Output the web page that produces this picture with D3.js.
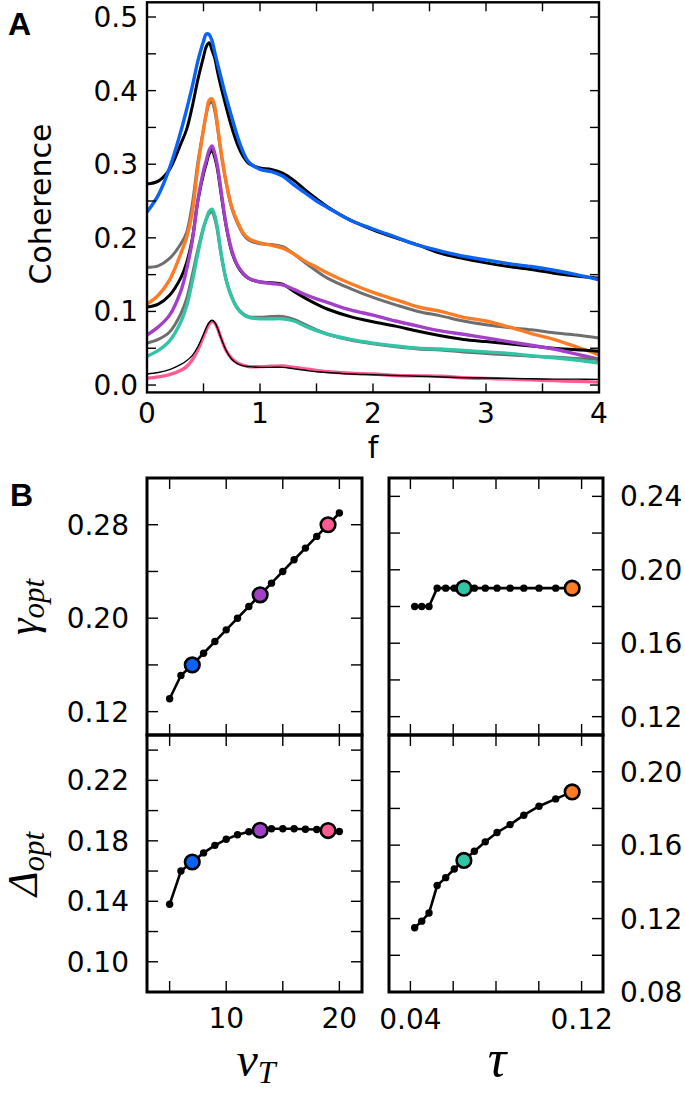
<!DOCTYPE html>
<html>
<head>
<meta charset="utf-8">
<script src="https://cdn.jsdelivr.net/npm/d3@7"></script>
<style>
  html, body { margin: 0; padding: 0; background: #fff; }
  svg { display: block; }
</style>
</head>
<body>
<svg id="chart" width="685" height="1096"></svg>
<script>
// ---------------- Panel A data ----------------
const fGrid = [0, 0.1, 0.2, 0.3, 0.35, 0.4, 0.45, 0.5, 0.525, 0.55, 0.575, 0.6, 0.625, 0.65, 0.7, 0.75, 0.8, 0.85, 0.9, 1.0, 1.1, 1.2, 1.3, 1.4, 1.5, 1.6, 1.8, 2.0, 2.2, 2.4, 2.6, 2.8, 3.0, 3.2, 3.4, 3.6, 3.8, 4.0];

const blueCoh = [0.235, 0.258, 0.295, 0.345, 0.374, 0.405, 0.440, 0.467, 0.477, 0.476, 0.468, 0.452, 0.436, 0.421, 0.391, 0.364, 0.338, 0.317, 0.303, 0.293, 0.290, 0.284, 0.272, 0.261, 0.250, 0.241, 0.224, 0.212, 0.201, 0.190, 0.182, 0.175, 0.170, 0.165, 0.161, 0.156, 0.150, 0.143];
const blueTheory = [0.273, 0.277, 0.293, 0.328, 0.347, 0.378, 0.415, 0.446, 0.460, 0.465, 0.455, 0.444, 0.425, 0.408, 0.378, 0.350, 0.327, 0.311, 0.301, 0.295, 0.293, 0.288, 0.278, 0.265, 0.253, 0.242, 0.224, 0.211, 0.200, 0.190, 0.179, 0.172, 0.166, 0.161, 0.157, 0.152, 0.148, 0.145];

const orangeCoh = [0.110, 0.122, 0.143, 0.179, 0.200, 0.234, 0.297, 0.347, 0.370, 0.387, 0.389, 0.378, 0.352, 0.323, 0.276, 0.242, 0.222, 0.207, 0.199, 0.193, 0.190, 0.186, 0.178, 0.168, 0.160, 0.152, 0.138, 0.126, 0.116, 0.106, 0.100, 0.092, 0.087, 0.079, 0.070, 0.062, 0.052, 0.041];
const orangeTheory = [0.160, 0.162, 0.172, 0.192, 0.207, 0.245, 0.302, 0.348, 0.368, 0.382, 0.384, 0.372, 0.348, 0.320, 0.275, 0.240, 0.220, 0.205, 0.197, 0.192, 0.191, 0.188, 0.178, 0.166, 0.155, 0.145, 0.131, 0.119, 0.109, 0.100, 0.094, 0.087, 0.082, 0.078, 0.075, 0.071, 0.068, 0.064];

const purpleCoh = [0.068, 0.079, 0.095, 0.128, 0.157, 0.195, 0.251, 0.291, 0.305, 0.319, 0.325, 0.314, 0.296, 0.270, 0.218, 0.183, 0.163, 0.152, 0.145, 0.140, 0.138, 0.136, 0.130, 0.123, 0.117, 0.112, 0.102, 0.095, 0.087, 0.080, 0.0735, 0.069, 0.064, 0.059, 0.054, 0.049, 0.042, 0.035];
const purpleTheory = [0.106, 0.110, 0.122, 0.146, 0.166, 0.198, 0.250, 0.287, 0.301, 0.314, 0.319, 0.309, 0.292, 0.266, 0.216, 0.181, 0.162, 0.151, 0.145, 0.140, 0.139, 0.137, 0.127, 0.118, 0.110, 0.103, 0.093, 0.086, 0.080, 0.073, 0.067, 0.062, 0.059, 0.056, 0.053, 0.050, 0.048, 0.046];

const tealCoh = [0.039, 0.047, 0.060, 0.086, 0.107, 0.140, 0.179, 0.213, 0.226, 0.236, 0.239, 0.230, 0.212, 0.185, 0.143, 0.119, 0.104, 0.096, 0.092, 0.090, 0.090, 0.090, 0.087, 0.080, 0.074, 0.069, 0.062, 0.057, 0.053, 0.050, 0.049, 0.047, 0.045, 0.043, 0.040, 0.037, 0.034, 0.030];
const tealTheory = [0.057, 0.062, 0.072, 0.097, 0.117, 0.149, 0.184, 0.214, 0.225, 0.233, 0.235, 0.226, 0.208, 0.182, 0.143, 0.120, 0.105, 0.097, 0.093, 0.092, 0.093, 0.093, 0.089, 0.082, 0.075, 0.069, 0.061, 0.056, 0.052, 0.049, 0.0475, 0.045, 0.043, 0.041, 0.039, 0.038, 0.036, 0.035];

const pinkCoh = [0.009, 0.011, 0.014, 0.020, 0.025, 0.034, 0.048, 0.066, 0.075, 0.083, 0.0865, 0.084, 0.077, 0.066, 0.047, 0.036, 0.030, 0.027, 0.025, 0.025, 0.0255, 0.026, 0.024, 0.022, 0.020, 0.018, 0.016, 0.015, 0.013, 0.0125, 0.012, 0.010, 0.009, 0.008, 0.007, 0.006, 0.005, 0.004];
const pinkTheory = [0.015, 0.017, 0.021, 0.028, 0.033, 0.040, 0.052, 0.069, 0.078, 0.085, 0.088, 0.085, 0.077, 0.066, 0.047, 0.035, 0.029, 0.026, 0.025, 0.024, 0.024, 0.024, 0.022, 0.020, 0.018, 0.017, 0.015, 0.014, 0.013, 0.012, 0.011, 0.010, 0.0095, 0.009, 0.0085, 0.008, 0.008, 0.0077];

const xTicksA = [0, 0.5, 1, 1.5, 2, 2.5, 3, 3.5, 4];
const xLabelsA = [0, 1, 2, 3, 4];
const yTicksA = [0, 0.05, 0.1, 0.15, 0.2, 0.25, 0.3, 0.35, 0.4, 0.45, 0.5];
const yLabelsA = [0, 0.1, 0.2, 0.3, 0.4, 0.5];

// ---------------- Panel B data ----------------
const vT = [5, 6, 7, 8, 9, 10, 11, 12, 13, 14, 15, 16, 17, 18, 19, 20];
const gammaVT = [0.131, 0.151, 0.160, 0.170, 0.180, 0.190, 0.200, 0.210, 0.220, 0.230, 0.240, 0.250, 0.260, 0.270, 0.280, 0.290];
const deltaVT = [0.138, 0.160, 0.166, 0.172, 0.177, 0.181, 0.184, 0.186, 0.187, 0.188, 0.188, 0.188, 0.1877, 0.1875, 0.1868, 0.1862];
const vTHighlight = [7, 13, 19];

const tau = [0.042, 0.0453, 0.0487, 0.0525, 0.0565, 0.0605, 0.065, 0.0699, 0.075, 0.0805, 0.0866, 0.093, 0.1001, 0.1079, 0.1156];
const gammaTau = [0.18, 0.18, 0.18, 0.19, 0.19, 0.19, 0.19, 0.19, 0.19, 0.19, 0.19, 0.19, 0.19, 0.19, 0.19];
const deltaTau = [0.115, 0.1186, 0.123, 0.138, 0.1423, 0.147, 0.1517, 0.1567, 0.1618, 0.1669, 0.1712, 0.1763, 0.1812, 0.1852, 0.189];
const tauHighlight = [0.065, 0.1156];

const vTTicks = [5, 10, 15, 20], vTLabels = [10, 20];
const tauTicks = [0.04, 0.06, 0.08, 0.10, 0.12], tauLabels = [0.04, 0.12];
const gVTTicks = [0.12, 0.16, 0.20, 0.24, 0.28], gVTLabels = [0.12, 0.20, 0.28];
const dVTTicks = [0.10, 0.12, 0.14, 0.16, 0.18, 0.20, 0.22, 0.24], dVTLabels = [0.10, 0.14, 0.18, 0.22];
const gTauTicks = [0.12, 0.14, 0.16, 0.18, 0.20, 0.22, 0.24], gTauLabels = [0.12, 0.16, 0.20, 0.24];
const dTauTicks = [0.08, 0.10, 0.12, 0.14, 0.16, 0.18, 0.20], dTauLabels = [0.08, 0.12, 0.16, 0.20];

// ---------------- Styles ----------------
const C = { blue: "#0b63f6", orange: "#ff7b24", purple: "#a43fca", teal: "#33c4a5", pink: "#ff5a92", gray: "#6e6e6e", black: "#000" };
const FONT = "'DejaVu Sans', sans-serif";
const MATH = "'Liberation Serif', 'DejaVu Serif', serif";

const svg = d3.select("#chart");

// generic framed axes with inward ticks on all sides
function frame(g, x, y, xt, yt, tl, sw) {
  const [x0, x1] = x.range(), [y0, y1] = y.range();
  xt.forEach(t => {
    g.append("line").attr("x1", x(t)).attr("x2", x(t)).attr("y1", y0).attr("y2", y0 - tl).attr("stroke", "#000").attr("stroke-width", 1.4);
    g.append("line").attr("x1", x(t)).attr("x2", x(t)).attr("y1", y1).attr("y2", y1 + tl).attr("stroke", "#000").attr("stroke-width", 1.4);
  });
  yt.forEach(t => {
    g.append("line").attr("x1", x0).attr("x2", x0 + tl).attr("y1", y(t)).attr("y2", y(t)).attr("stroke", "#000").attr("stroke-width", 1.4);
    g.append("line").attr("x1", x1).attr("x2", x1 - tl).attr("y1", y(t)).attr("y2", y(t)).attr("stroke", "#000").attr("stroke-width", 1.4);
  });
  g.append("rect").attr("x", x0).attr("y", y1).attr("width", x1 - x0).attr("height", y0 - y1)
    .attr("fill", "none").attr("stroke", "#000").attr("stroke-width", sw);
}

// ---------------- Panel A ----------------
const xA = d3.scaleLinear().domain([0, 4]).range([147, 599]);
const yA = d3.scaleLinear().domain([-0.01, 0.52]).range([392.4, 2.3]);
const gA = svg.append("g");

svg.append("defs").append("clipPath").attr("id", "clipA")
  .append("rect").attr("x", 147).attr("y", 2.3).attr("width", 452).attr("height", 390);

const seriesA = [
  { v: blueTheory, c: C.black, w: 3 }, { v: blueCoh, c: C.blue, w: 3.4 },
  { v: orangeTheory, c: C.gray, w: 3 }, { v: orangeCoh, c: C.orange, w: 3.4 },
  { v: purpleTheory, c: C.black, w: 3 }, { v: purpleCoh, c: C.purple, w: 3.4 },
  { v: tealTheory, c: C.gray, w: 3 }, { v: tealCoh, c: C.teal, w: 3.4 },
  { v: pinkCoh, c: C.pink, w: 3.4 }, { v: pinkTheory, c: C.black, w: 1.4 }
];
const lineA = d3.line().x((d, i) => xA(fGrid[i])).y(d => yA(d)).curve(d3.curveCatmullRom.alpha(0.5));
const gLines = gA.append("g").attr("clip-path", "url(#clipA)");
seriesA.forEach(s => {
  gLines.append("path").attr("d", lineA(s.v)).attr("fill", "none").attr("stroke", s.c)
    .attr("stroke-width", s.w).attr("stroke-linejoin", "round").attr("stroke-linecap", "round");
});
frame(gA, xA, yA, xTicksA, yTicksA, 9, 2.4);

xLabelsA.forEach(t => gA.append("text").attr("x", xA(t)).attr("y", 423).attr("text-anchor", "middle")
  .attr("font-family", FONT).attr("font-size", 28).text(d3.format("d")(t)));
yLabelsA.forEach(t => gA.append("text").attr("x", 138).attr("y", yA(t) + 10).attr("text-anchor", "end")
  .attr("font-family", FONT).attr("font-size", 28).text(d3.format(".1f")(t)));
gA.append("text").attr("x", xA(2)).attr("y", 458).attr("text-anchor", "middle")
  .attr("font-family", FONT).attr("font-size", 30).text("f");
gA.append("text").attr("transform", "translate(51,204) rotate(-90)").attr("text-anchor", "middle")
  .attr("font-family", FONT).attr("font-size", 30).text("Coherence");
svg.append("text").attr("x", 8).attr("y", 35).attr("font-family", "'Liberation Sans', Arial, sans-serif")
  .attr("font-weight", "bold").attr("font-size", 32).text("A");
svg.append("text").attr("x", 10).attr("y", 506).attr("font-family", "'Liberation Sans', Arial, sans-serif")
  .attr("font-weight", "bold").attr("font-size", 32).text("B");

// ---------------- Panel B ----------------
const xL = d3.scaleLinear().domain([3, 22]).range([147, 362]);
const xR = d3.scaleLinear().domain([0.03, 0.13]).range([389, 603]);
const yGL = d3.scaleLinear().domain([0.10, 0.32]).range([735, 478]);
const yDL = d3.scaleLinear().domain([0.08, 0.25]).range([992, 735]);
const yGR = d3.scaleLinear().domain([0.11, 0.25]).range([735, 478]);
const yDR = d3.scaleLinear().domain([0.08, 0.22]).range([992, 735]);

const vtColors = [C.blue, C.purple, C.pink];
const tauColors = [C.teal, C.orange];

function subplot(xs, ys, xv, yv, hl, hlColors, xt, yt) {
  const g = svg.append("g");
  frame(g, xs, ys, xt, yt, 11, 3);
  const ln = d3.line().x((d, i) => xs(xv[i])).y(d => ys(d));
  g.append("path").attr("d", ln(yv)).attr("fill", "none").attr("stroke", "#000").attr("stroke-width", 2.6);
  g.selectAll("circle.s").data(yv).join("circle").attr("class", "s")
    .attr("cx", (d, i) => xs(xv[i])).attr("cy", d => ys(d)).attr("r", 3.7).attr("fill", "#000");
  hl.forEach((h, k) => {
    const i = xv.indexOf(h);
    g.append("circle").attr("cx", xs(xv[i])).attr("cy", ys(yv[i])).attr("r", 7.3)
      .attr("fill", hlColors[k]).attr("stroke", "#000").attr("stroke-width", 2.6);
  });
  return g;
}

subplot(xL, yGL, vT, gammaVT, vTHighlight, vtColors, vTTicks, gVTTicks);
subplot(xL, yDL, vT, deltaVT, vTHighlight, vtColors, vTTicks, dVTTicks);
subplot(xR, yGR, tau, gammaTau, tauHighlight, tauColors, tauTicks, gTauTicks);
subplot(xR, yDR, tau, deltaTau, tauHighlight, tauColors, tauTicks, dTauTicks);

function yLabelsLeft(ys, labs) {
  labs.forEach(t => svg.append("text").attr("x", 129).attr("y", ys(t) + 10).attr("text-anchor", "end")
    .attr("font-family", FONT).attr("font-size", 28).text(d3.format(".2f")(t)));
}
function yLabelsRight(ys, labs) {
  labs.forEach(t => svg.append("text").attr("x", 620).attr("y", ys(t) + 10).attr("text-anchor", "start")
    .attr("font-family", FONT).attr("font-size", 28).text(d3.format(".2f")(t)));
}
yLabelsLeft(yGL, gVTLabels);
yLabelsLeft(yDL, dVTLabels);
yLabelsRight(yGR, gTauLabels);
yLabelsRight(yDR, dTauLabels);
vTLabels.forEach(t => svg.append("text").attr("x", xL(t)).attr("y", 1028).attr("text-anchor", "middle")
  .attr("font-family", FONT).attr("font-size", 28).text(d3.format("d")(t)));
tauLabels.forEach(t => svg.append("text").attr("x", xR(t)).attr("y", 1029).attr("text-anchor", "middle")
  .attr("font-family", FONT).attr("font-size", 28).text(d3.format(".2f")(t)));

// math axis labels
function mathLabel(x, y, rot, main, sub, size, subSize, dy) {
  const t = svg.append("text").attr("transform", `translate(${x},${y}) rotate(${rot})`)
    .attr("text-anchor", "middle").attr("font-family", MATH).attr("font-style", "italic").attr("font-size", size);
  t.append("tspan").text(main);
  if (sub) t.append("tspan").attr("font-size", subSize).attr("dy", dy).text(sub);
}
mathLabel(37, 607, -90, "γ", "opt", 42, 31, 7);
mathLabel(37, 864, -90, "Δ", "opt", 42, 31, 7);
mathLabel(256, 1076, 0, "v", "T", 48, 32, 7);
mathLabel(497, 1076, 0, "τ", "", 52, 0, 0);
</script>
</body>
</html>
